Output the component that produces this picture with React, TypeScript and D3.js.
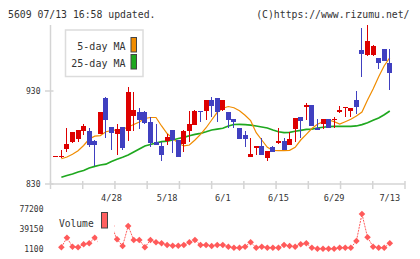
import React from 'react';
import * as d3 from 'd3';

const dates = [
  '4/14', '4/15', '4/16', '4/17', '4/20', '4/21', '4/22', '4/23', '4/24', '4/27',
  '4/28', '4/30', '5/1', '5/7', '5/8', '5/11', '5/12', '5/13', '5/14', '5/15',
  '5/18', '5/19', '5/20', '5/21', '5/22', '5/25', '5/26', '5/27', '5/28', '5/29',
  '6/1', '6/2', '6/3', '6/4', '6/5', '6/8', '6/9', '6/10', '6/11', '6/12',
  '6/15', '6/16', '6/17', '6/18', '6/19', '6/22', '6/23', '6/24', '6/25', '6/26',
  '6/29', '6/30', '7/1', '7/2', '7/3', '7/6', '7/7', '7/8', '7/9', '7/10',
  '7/13',
];

const opens = [
  860, 860, 867.6, 875.5, 878.8, 887, 887, 876.6, 883.8, 922.5,
  891.3, 883.8, 891.3, 887.3, 903.1, 907.4, 907.4, 896.5, 875, 870.9,
  876.6, 888.1, 877.3, 873, 887, 893.4, 908.5, 908.5, 920.3, 922.4,
  909.6, 907.5, 899.9, 890.3, 882.7, 859.4, 868.9, 870.9, 858, 869.6,
  874.1, 876.2, 871.9, 889.1, 901.7, 913.1, 915, 890.6, 894.2, 899.5,
  898.8, 907.8, 911.7, 908.9, 920.3, 974.1, 969.1, 968.7, 965.5, 975.2,
  960.1,
];
const highs = [
  860, 866.5, 889.9, 886, 888.1, 894.5, 889.9, 877.3, 907.4, 923.9,
  891.3, 894.5, 891.3, 934.6, 928.9, 911.7, 908.5, 901.7, 894.5, 875.5,
  883.6, 888.1, 877.3, 888.1, 908.5, 909.6, 908.5, 920.3, 923.9, 922.4,
  920.3, 907.5, 899.9, 890.3, 887.2, 879.3, 870.9, 879.3, 865.5, 870.9,
  889.9, 879.3, 885.4, 900.6, 901.7, 916.7, 915, 899.5, 899.5, 899.5,
  902, 913.9, 912.4, 911.4, 930.4, 997.4, 1001, 979.5, 965.5, 975.2,
  975.2,
];
const lows = [
  860, 857.6, 864.8, 873.7, 875.5, 882.7, 870, 849.4, 883.8, 879.1,
  866.6, 861.2, 866.6, 876.6, 887.3, 889.1, 894.2, 869.5, 871.9, 855,
  872, 863, 859.4, 864.8, 875.5, 893.4, 897, 898.8, 902.4, 897,
  908.5, 889.9, 890.5, 878.8, 870.1, 859.4, 861.2, 861.2, 855.1, 864.8,
  873.2, 866.6, 871.9, 875.5, 879.1, 898.8, 892.4, 888.1, 889.1, 890.6,
  890.6, 906, 902.4, 902.4, 904.9, 944.7, 968, 968, 953.7, 962.6,
  931.1,
];
const closes = [
  860, 860, 873, 885.9, 888.1, 892.4, 871.9, 871.9, 907.4, 898.8,
  885.2, 889.1, 868.7, 928.9, 909.6, 898.8, 896, 874.6, 871.9, 861.2,
  880.7, 876.8, 859.4, 887, 894.5, 908.5, 907.6, 920.3, 914, 907.6,
  920.3, 898.8, 896.2, 878.8, 878.8, 862.3, 870.9, 861.2, 865.5, 864.8,
  876.2, 866.6, 878.2, 900.6, 898.1, 915, 892.4, 888.1, 899.5, 890.6,
  899.9, 909.6, 912.4, 911.4, 913.1, 969.4, 983.8, 978.4, 960.5, 962.6,
  949.7,
];

const ma5: (number | null)[] = [
  null, 857.1, 859, 861.9, 865.7, 871.4, 878.4, 881.4, 882.1, 886.2,
  887.5, 888.1, 888.8, 891.3, 894, 896.7, 900.4, 901.5, 901.5, 892.4,
  884.3, 879.1, 873.8, 870.9, 871.9, 877.3, 883.4, 890.5, 898.8, 907.1,
  911.4, 913.3, 912, 908.8, 903.9, 898.1, 885.2, 877.3, 869.5, 866.2,
  865.8, 865.8, 866.2, 869.5, 877.3, 883.4, 889.7, 894.2, 897, 898.8,
  897, 894.5, 897, 899.6, 903.1, 907.4, 920.3, 932.2, 945.4, 957.2,
  965.8,
];
const ma25: (number | null)[] = [
  null, 837.2, 839.1, 840.8, 842.9, 844.5, 847.2, 849, 850.4, 851.3,
  854.2, 856.7, 858.8, 861.2, 864.4, 867.6, 870.9, 872.5, 874.1, 875.5,
  876.2, 877.3, 878.9, 880.2, 881.9, 883.4, 884.5, 886.2, 888.1, 889.1,
  889.9, 892.4, 894, 894.2, 893.8, 893.4, 892.4, 891.3, 890.2, 888.1,
  886.2, 885.2, 885.6, 886.7, 887.7, 888.8, 889.1, 890.2, 891, 891.6,
  892, 892, 892, 892, 892.4, 893.8, 895.9, 898.5, 901, 904.5,
  908.5,
];
const volumes: (number | null)[] = [
  null, 4000, 22200, 5100, 4000, 9700, 11600, 22200, 15000, 20000,
  44500, 19200, 6400, 44500, 17800, 17800, 3950, 17800, 13500, 11600,
  8300, 7000, 7000, 8300, 13500, 17800, 8300, 8300, 6400, 8300,
  8300, 5100, 3200, 3200, 5100, 13500, 3200, 5100, 3200, 3200,
  3200, 8300, 6400, 5100, 9700, 11600, 3200, 1100, 1100, 1100,
  1100, 3200, 3200, 3200, 15900, 67300, 23000, 5100, 3200, 3200,
  11600,
];

const priceTicks = [930, 830];
const volumeTicks = [77200, 39150, 1100];
const xTickLabels = ['4/28', '5/18', '6/1', '6/15', '6/29', '7/13'];
const legendLabels = ['5-day MA', '25-day MA'];

const RED = '#dd0000';
const BLUE = '#4040c0';
const ORANGE = '#f08c00';
const GREEN = '#1fa81f';
const VOL = '#ff5a5a';
const AXIS = '#d4d4d4';
const TEXT = '#333';
const FONT = '"DejaVu Sans Mono", "Liberation Mono", monospace';

export default function App() {
  const W = 420;
  const H = 259;
  const n = dates.length;
  const x = d3.scaleLinear().domain([0, n - 1]).range([55.8, 389.8]);
  const y = d3.scaleLinear().domain([830, 930]).range([184, 91]);
  const yv = d3.scaleLinear().domain([1100, 77200]).range([248.8, 208.8]);

  const axisLeft = 50.5;
  const axisRight = 405;
  const axisBottom = 184;
  const axisTop = 25;

  const gridTicks = d3.range(12).map((k) => axisLeft + (k * (axisRight - axisLeft)) / 11);

  const maLine = d3
    .line<number | null>()
    .defined((d) => d != null)
    .x((_, i) => x(i))
    .y((d) => y(d as number));

  const volLine = d3
    .line<number | null>()
    .defined((d) => d != null)
    .x((_, i) => x(i))
    .y((d) => yv(d as number));

  const bw = 5;
  const diamond = (cx: number, cy: number, r: number) =>
    `M${cx},${cy - r}L${cx + r},${cy}L${cx},${cy + r}L${cx - r},${cy}Z`;

  return (
    <svg
      width={W}
      height={H}
      style={{ position: 'absolute', left: 0, top: 0, background: '#fff' }}
      fontFamily={FONT}
    >
      <rect x={0} y={0} width={W} height={H} fill="#fff" />
      {/* header */}
      <text x={8} y={17.5} fontSize={9.8} fill={TEXT}>
        5609 07/13 16:58 updated.
      </text>
      <text x={409.5} y={17.5} fontSize={9.8} fill={TEXT} textAnchor="end">
        (C)https://www.rizumu.net/
      </text>

      {/* axes */}
      <line x1={axisLeft} x2={axisLeft} y1={axisTop} y2={axisBottom} stroke={AXIS} strokeWidth={1.5} />
      <line x1={axisLeft} x2={axisRight} y1={axisBottom} y2={axisBottom} stroke={AXIS} strokeWidth={1.5} />
      {gridTicks.map((gx, k) => (
        <line key={'gt' + k} x1={gx} x2={gx} y1={axisBottom - 3} y2={axisBottom + 5} stroke={AXIS} strokeWidth={1.5} />
      ))}
      {priceTicks.map((p) => (
        <g key={'pt' + p}>
          <line x1={45} x2={53.5} y1={y(p)} y2={y(p)} stroke={AXIS} strokeWidth={1.5} />
          <text x={40.5} y={y(p) + 3} fontSize={8} fill={TEXT} textAnchor="end">
            {p}
          </text>
        </g>
      ))}
      {xTickLabels.map((lab) => {
        const i = dates.indexOf(lab);
        return (
          <text key={'xl' + lab} x={x(i)} y={200.5} fontSize={8.6} fill={TEXT} textAnchor="middle">
            {lab}
          </text>
        );
      })}

      {/* legend */}
      <rect x={65.5} y={30} width={77.5} height={46.5} fill="#fff" stroke="#dcdcdc" strokeWidth={1.5} />
      {legendLabels.map((lab, k) => (
        <g key={'lg' + k}>
          <text x={125.5} y={49.5 + k * 17} fontSize={10} fill={TEXT} textAnchor="end">
            {lab}
          </text>
          <rect
            x={131}
            y={37.5 + k * 17}
            width={5.5}
            height={14.5}
            fill={k === 0 ? ORANGE : GREEN}
            stroke="#444"
            strokeWidth={1}
          />
        </g>
      ))}

      {/* moving averages */}
      <path d={maLine(ma25) || ''} fill="none" stroke={GREEN} strokeWidth={1.7} />
      <path d={maLine(ma5) || ''} fill="none" stroke={ORANGE} strokeWidth={1.2} />

      {/* candles */}
      <g shapeRendering="crispEdges">
        {dates.map((_, i) => {
          const o = opens[i];
          const c = closes[i];
          const up = c >= o;
          const col = up ? RED : BLUE;
          const cx = x(i);
          const top = y(Math.max(o, c));
          const bot = y(Math.min(o, c));
          return (
            <g key={'c' + i}>
              <line x1={cx} x2={cx} y1={y(highs[i])} y2={y(lows[i])} stroke={col} strokeWidth={1} />
              <rect x={cx - bw / 2} y={top} width={bw} height={Math.max(1, bot - top)} fill={col} />
            </g>
          );
        })}
      </g>

      {/* volume */}
      <path d={volLine(volumes) || ''} fill="none" stroke={VOL} strokeWidth={1} strokeDasharray="2,1" />
      {volumes.map((v, i) =>
        v == null ? null : <path key={'v' + i} d={diamond(x(i), yv(v), 3.3)} fill={VOL} />
      )}
      {volumeTicks.map((v) => (
        <text key={'vt' + v} x={43.5} y={yv(v) + 3} fontSize={8} fill={TEXT} textAnchor="end">
          {v}
        </text>
      ))}
      <rect x={97.5} y={206} width={16.5} height={44} fill="#fff" />
      <text x={59} y={226.5} fontSize={9.6} fill={TEXT}>
        Volume
      </text>
      <rect x={101.5} y={212.5} width={6} height={15.5} fill="#ff6060" stroke="#444" strokeWidth={1} />
    </svg>
  );
}
